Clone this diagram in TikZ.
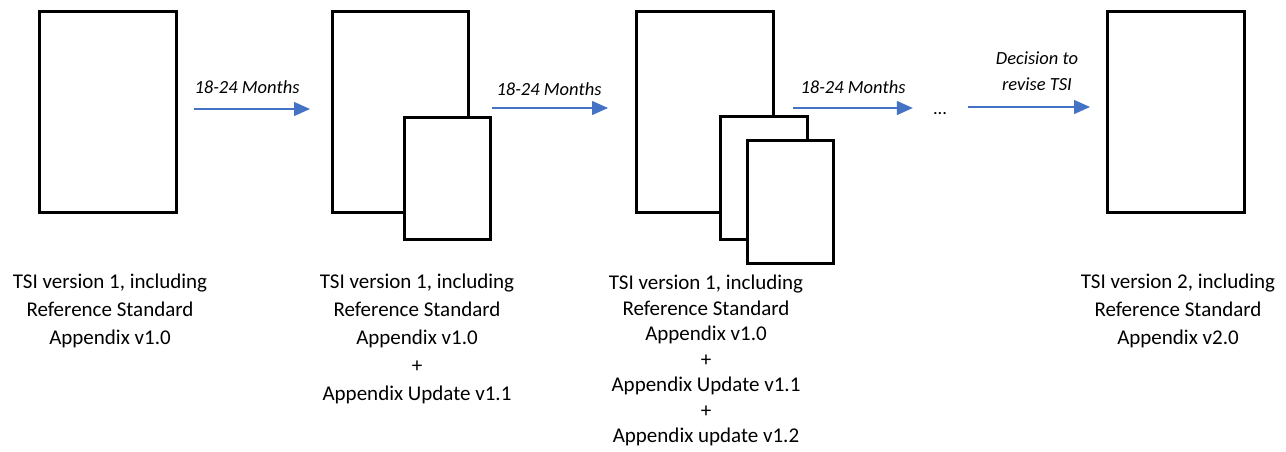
\documentclass[tikz,border=0pt]{standalone}
\usepackage{fontspec}
\setmainfont{Carlito}
\usetikzlibrary{arrows.meta}
\definecolor{arrblue}{HTML}{4472C4}
\begin{document}
\begin{tikzpicture}[x=1pt,y=-1pt,
  doc/.style={draw=black, line width=2.6pt, fill=white, rectangle, inner sep=0pt, anchor=north west},
  arr/.style={draw=arrblue, line width=1.3pt, -{Triangle[length=16pt,width=14pt]}},
  lbl/.style={font=\fontsize{18.5}{26}\selectfont\itshape, inner sep=0pt, align=center},
  captext/.style={align=center, font=\fontsize{21}{28}\selectfont, inner sep=0pt, anchor=north},
  capthree/.style={align=center, font=\fontsize{21}{25.5}\selectfont, inner sep=0pt, anchor=north}]
\useasboundingbox (0,0) rectangle (1286,451);
% documents
\node[doc, minimum width=137pt, minimum height=201pt] (b1) at (38,10) {};
\node[doc, minimum width=136pt, minimum height=201pt] (b2) at (331,10) {};
\node[doc, minimum width=86pt, minimum height=122pt] (b2s) at (403,116) {};
\node[doc, minimum width=137pt, minimum height=201pt] (b3) at (635,10) {};
\node[doc, minimum width=87pt, minimum height=123pt] (b3m) at (719,115) {};
\node[doc, minimum width=86pt, minimum height=123pt] (b3f) at (746,139) {};
\node[doc, minimum width=137pt, minimum height=201pt] (b4) at (1106,10) {};
% ellipsis
\node[font=\fontsize{18.5}{22}\selectfont, inner sep=0pt, anchor=base] (dots) at (940,114) {...};
% arrows
\draw[arr, shorten <=16pt, shorten >=21pt] (b1.east |- 0,109) -- (b2.west |- 0,109);
\draw[arr, shorten >=27pt] (b2s.east |- 0,108) -- (b3.west |- 0,108);
\draw[arr, shorten <=18pt, shorten >=20pt] (b3.east |- 0,108) -- (dots.west |- 0,108);
\draw[arr, shorten <=21pt, shorten >=16pt] (dots.east |- 0,107) -- (b4.west |- 0,107);
% arrow labels
\node[lbl] (l1) at (247,87) {18-24 Months};
\node[lbl] (l2) at (549,89) {18-24 Months};
\node[lbl] (l3) at (853,87) {18-24 Months};
\node[lbl] (l4) at (1037,71) {Decision to\\revise TSI};
% captions
\node[captext] (c1) at (110,274) {TSI version 1, including\\Reference Standard\\Appendix v1.0};
\node[captext] (c2) at (417,274) {TSI version 1, including\\Reference Standard\\Appendix v1.0\\+\\Appendix Update v1.1};
\node[capthree] (c3) at (706,275) {TSI version 1, including\\Reference Standard\\Appendix v1.0\\+\\Appendix Update v1.1\\+\\Appendix update v1.2};
\node[captext] (c4) at (1178,274) {TSI version 2, including\\Reference Standard\\Appendix v2.0};
\end{tikzpicture}
\end{document}
